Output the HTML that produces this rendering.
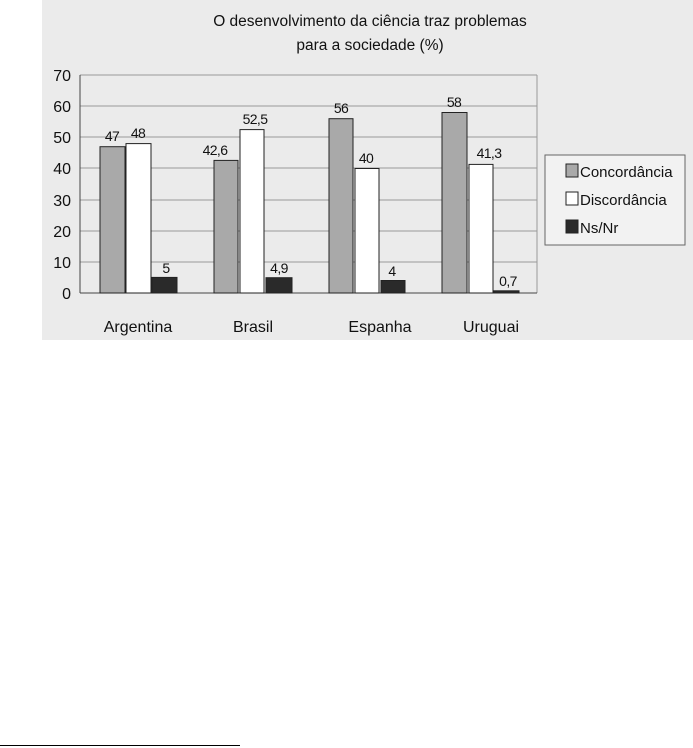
<!DOCTYPE html>
<html><head><style>
body{margin:0;width:693px;height:748px;background:#fff;position:relative;overflow:hidden;font-family:"Liberation Sans",sans-serif}
</style></head><body>
<svg width="693" height="748" style="position:absolute;left:0;top:0" font-family="Liberation Sans, sans-serif">
<rect x="42" y="0" width="651" height="340" fill="#ebebeb"/>
<text x="370" y="26" font-size="15.5" text-anchor="middle" fill="#111">O desenvolvimento da ciência traz problemas</text>
<text x="370" y="50" font-size="15.5" text-anchor="middle" fill="#111">para a sociedade (%)</text>
<g stroke="#9a9a9a" stroke-width="1">
<line x1="80" y1="75" x2="537" y2="75"/><line x1="80" y1="106" x2="537" y2="106"/>
<line x1="80" y1="137" x2="537" y2="137"/><line x1="80" y1="168" x2="537" y2="168"/>
<line x1="80" y1="200" x2="537" y2="200"/><line x1="80" y1="231" x2="537" y2="231"/>
<line x1="80" y1="262" x2="537" y2="262"/>
<line x1="537" y1="75" x2="537" y2="293"/>
</g>
<line x1="80" y1="75" x2="80" y2="293" stroke="#444"/>
<line x1="80" y1="293" x2="537" y2="293" stroke="#444"/>
<g font-size="16" fill="#111" text-anchor="end">
<text x="71" y="81">70</text><text x="71" y="112">60</text><text x="71" y="143">50</text><text x="71" y="174">40</text><text x="71" y="206">30</text><text x="71" y="237">20</text><text x="71" y="268">10</text><text x="71" y="299">0</text>
</g>
<g stroke="#222" stroke-width="1">
<rect x="100" y="146.7" width="25" height="146.3" fill="#a9a9a9"/>
<rect x="126" y="143.6" width="25" height="149.4" fill="#fff"/>
<rect x="152" y="277.4" width="25" height="15.6" fill="#2a2a2a"/>
<rect x="214" y="160.4" width="24" height="132.6" fill="#a9a9a9"/>
<rect x="240" y="129.6" width="24" height="163.4" fill="#fff"/>
<rect x="266" y="277.7" width="26" height="15.3" fill="#2a2a2a"/>
<rect x="329" y="118.7" width="24" height="174.3" fill="#a9a9a9"/>
<rect x="355" y="168.5" width="24" height="124.5" fill="#fff"/>
<rect x="381" y="280.5" width="24" height="12.5" fill="#2a2a2a"/>
<rect x="442" y="112.5" width="25" height="180.5" fill="#a9a9a9"/>
<rect x="469" y="164.4" width="24" height="128.6" fill="#fff"/>
<rect x="494" y="290.8" width="25" height="2.2" fill="#2a2a2a"/>
</g>
<g font-size="14" fill="#111" text-anchor="middle" letter-spacing="-0.6">
<text x="112" y="141">47</text><text x="138" y="138">48</text><text x="166" y="273">5</text>
<text x="215" y="155">42,6</text><text x="255" y="124">52,5</text><text x="279" y="273">4,9</text>
<text x="341" y="113">56</text><text x="366" y="163">40</text><text x="392" y="276">4</text>
<text x="454" y="107">58</text><text x="489" y="158">41,3</text><text x="508" y="286">0,7</text>
</g>
<g font-size="16" fill="#111" text-anchor="middle">
<text x="138" y="332">Argentina</text><text x="253" y="332">Brasil</text><text x="380" y="332">Espanha</text><text x="491" y="332">Uruguai</text>
</g>
<rect x="545" y="155" width="140" height="90" fill="#f2f2f2" stroke="#666"/>
<rect x="566" y="164" width="12" height="13" fill="#a9a9a9" stroke="#222"/>
<rect x="566" y="192" width="12" height="13" fill="#fff" stroke="#222"/>
<rect x="566" y="220" width="12" height="13" fill="#2a2a2a" stroke="#222"/>
<g font-size="15" fill="#111">
<text x="580" y="177">Concordância</text><text x="580" y="205">Discordância</text><text x="580" y="233">Ns/Nr</text>
</g>
<line x1="0" y1="745.5" x2="240" y2="745.5" stroke="#000" stroke-width="1"/>
</svg>
</body></html>
